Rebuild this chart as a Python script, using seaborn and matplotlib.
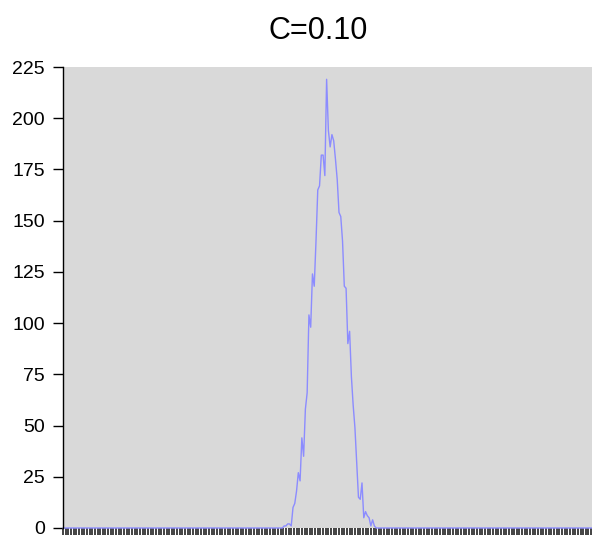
import matplotlib
matplotlib.use("Agg")
import matplotlib.pyplot as plt
import seaborn as sns
import numpy as np
import pandas as pd

# histogram counts (non-zero part only)
n_bins = 300
peak_start = 125
peak_counts = [1, 1, 2, 2, 1, 10, 12, 18, 27, 23, 44, 35, 58, 66, 104, 98,
               124, 118, 140, 165, 167, 182, 182, 172, 219, 194, 186, 192,
               189, 180, 170, 154, 152, 140, 118, 117, 90, 96, 74, 60, 49,
               32, 15, 14, 22, 5, 8, 6, 5, 1, 4, 1, 0]
y_ticks = [0, 25, 50, 75, 100, 125, 150, 175, 200, 225]
title = "C=0.10"

counts = np.zeros(n_bins)
counts[peak_start:peak_start + len(peak_counts)] = peak_counts
df = pd.DataFrame({"bin": np.arange(n_bins), "count": counts})

sns.set_style("white")
plt.rcParams['font.family'] = ['Liberation Sans', 'DejaVu Sans']
plt.rcParams['text.color'] = 'black'
plt.rcParams['xtick.color'] = 'black'
plt.rcParams['ytick.color'] = 'black'

fig = plt.figure(figsize=(5.92, 5.35), dpi=100)
ax = fig.add_axes([63 / 592, 7 / 535, 529 / 592, 461 / 535])
ax.set_facecolor("#d9d9d9")

sns.lineplot(data=df, x="bin", y="count", ax=ax, color="#8c8cff",
             linewidth=1, clip_on=False)

ax.set_xlim(0, n_bins - 1)
ax.set_ylim(0, 225)
ax.set_yticks(y_ticks)
ax.set_xticks(np.arange(0, n_bins, 1.5))
ax.set_xticklabels([])
ax.set_xlabel("")
ax.set_ylabel("")
ax.tick_params(axis="y", length=7, width=1, colors="black", pad=6,
               labelsize=14, left=True)
ax.tick_params(axis="x", length=6, width=1.2, color="#222222", bottom=True)

for s in ["top", "right", "bottom"]:
    ax.spines[s].set_visible(False)
ax.spines["left"].set_color("black")
ax.spines["left"].set_linewidth(1)

ax.set_title(title, fontsize=22, pad=20, color="black", x=0.482)

fig.savefig("out.png", dpi=100)
